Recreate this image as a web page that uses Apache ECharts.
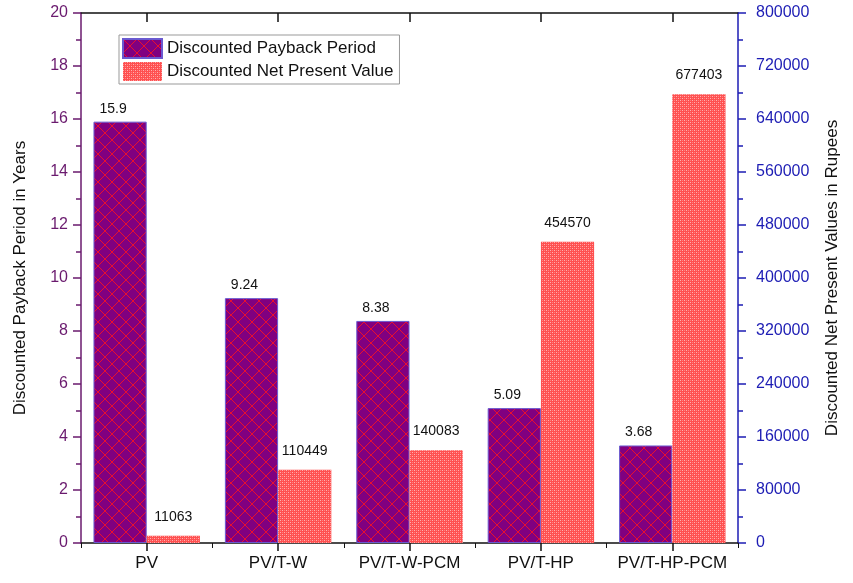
<!DOCTYPE html>
<html>
<head>
<meta charset="utf-8">
<script src="https://cdn.jsdelivr.net/npm/echarts@6/dist/echarts.min.js"></script>
<style>
  html, body { margin: 0; padding: 0; background: #ffffff; }
  #chart { width: 853px; height: 583px; }
</style>
</head>
<body>
<div id="chart"></div>
<script>
// Systems compared
const systems = ['PV', 'PV/T-W', 'PV/T-W-PCM', 'PV/T-HP', 'PV/T-HP-PCM'];
// Discounted payback period (years)
const paybackYears = [15.9, 9.24, 8.38, 5.09, 3.68];
// Discounted net present value (rupees)
const npvRupees = [11063, 110449, 140083, 454570, 677403];

const FONT = '"Liberation Sans", Arial, sans-serif';
const PURPLE_AXIS = '#6a1a6e';
const BLUE_AXIS = '#1c1cb4';

// Purple fill with a crisp red diamond crosshatch
function crossHatch() {
  const s = 14;
  const c = document.createElement('canvas');
  c.width = s; c.height = s;
  const g = c.getContext('2d');
  g.fillStyle = '#800080';
  g.fillRect(0, 0, s, s);
  g.fillStyle = '#e8102e';
  for (let i = 0; i < s; i++) {
    g.fillRect(i, i, 1, 1);
    g.fillRect(s - 1 - i, i, 1, 1);
  }
  return c;
}

// Fine red/pink checker fill
function checker() {
  const s = 4;
  const c = document.createElement('canvas');
  c.width = s; c.height = s;
  const g = c.getContext('2d');
  g.fillStyle = '#ff5050';
  g.fillRect(0, 0, s, s);
  g.fillStyle = '#ffb0b0';
  g.fillRect(0, 0, 1, 1);
  g.fillRect(2, 2, 1, 1);
  g.fillStyle = '#ff8080';
  g.fillRect(2, 0, 1, 1);
  g.fillRect(0, 2, 1, 1);
  return c;
}

const chart = echarts.init(document.getElementById('chart'), null, { renderer: 'canvas' });

chart.setOption({
  backgroundColor: '#ffffff',
  animation: false,
  textStyle: { fontFamily: FONT },
  grid: { left: 81, right: 115, top: 13, bottom: 40, containLabel: false },
  legend: {
    left: 119, top: 35,
    orient: 'vertical',
    icon: 'rect',
    itemWidth: 39, itemHeight: 19,
    itemGap: 3,
    padding: [3, 6, 3, 3],
    borderColor: '#999999', borderWidth: 1,
    textStyle: { fontFamily: FONT, fontSize: 17, color: '#111111' },
    data: ['Discounted Payback Period', 'Discounted Net Present Value']
  },
  xAxis: [
    {
      type: 'category', data: systems, position: 'bottom',
      axisLine: { lineStyle: { color: '#111111', width: 1.5 } },
      axisTick: { show: true, length: 5, lineStyle: { color: '#111111' } },
      axisLabel: { interval: 0, fontFamily: FONT, fontSize: 17, color: '#111111', margin: 12 }
    },
    {
      type: 'category', data: systems, position: 'bottom',
      axisLine: { show: false },
      axisTick: { show: true, interval: 0, alignWithLabel: true, length: 8, lineStyle: { color: '#111111', width: 1.5 } },
      axisLabel: { show: false }
    },
    {
      type: 'category', data: systems, position: 'top',
      axisLine: { lineStyle: { color: '#111111', width: 1.5 } },
      axisTick: { show: true, interval: 0, alignWithLabel: true, inside: true, length: 9, lineStyle: { color: '#111111', width: 1.5 } },
      axisLabel: { show: false }
    }
  ],
  yAxis: [
    {
      type: 'value', min: 0, max: 20, interval: 2, position: 'left',
      name: 'Discounted Payback Period in Years',
      nameLocation: 'middle', nameGap: 52, nameRotate: 90,
      nameTextStyle: { fontFamily: FONT, fontSize: 17, color: '#111111' },
      axisLine: { show: true, lineStyle: { color: PURPLE_AXIS, width: 1.5 } },
      axisTick: { show: true, length: 8, lineStyle: { color: PURPLE_AXIS, width: 1.5 } },
      minorTick: { show: true, splitNumber: 2, length: 5, lineStyle: { color: PURPLE_AXIS, width: 1.5 } },
      axisLabel: { fontFamily: FONT, fontSize: 16, color: PURPLE_AXIS, margin: 13 },
      splitLine: { show: false }
    },
    {
      type: 'value', min: 0, max: 800000, interval: 80000, position: 'right',
      name: 'Discounted Net Present Values in Rupees',
      nameLocation: 'middle', nameGap: 86, nameRotate: 90,
      nameTextStyle: { fontFamily: FONT, fontSize: 17, color: '#111111' },
      axisLine: { show: true, lineStyle: { color: BLUE_AXIS, width: 1.5 } },
      axisTick: { show: true, length: 8, lineStyle: { color: BLUE_AXIS, width: 1.5 } },
      minorTick: { show: true, splitNumber: 2, length: 5, lineStyle: { color: BLUE_AXIS, width: 1.5 } },
      axisLabel: { fontFamily: FONT, fontSize: 16, color: BLUE_AXIS, margin: 18, formatter: v => String(v) },
      splitLine: { show: false }
    }
  ],
  series: [
    {
      name: 'Discounted Payback Period',
      type: 'bar', xAxisIndex: 0, yAxisIndex: 0,
      data: paybackYears,
      barGap: '0%', barCategoryGap: '19%',
      itemStyle: {
        color: { image: crossHatch(), repeat: 'repeat' },
        borderColor: '#6a5ad0', borderWidth: 1
      },
      label: {
        show: true, position: 'top', distance: 6, offset: [-7, 0],
        fontFamily: FONT, fontSize: 14, color: '#111111'
      }
    },
    {
      name: 'Discounted Net Present Value',
      type: 'bar', xAxisIndex: 0, yAxisIndex: 1,
      data: npvRupees,
      barGap: '0%', barCategoryGap: '19%',
      itemStyle: {
        color: { image: checker(), repeat: 'repeat' }
      },
      label: {
        show: true, position: 'top', distance: 12,
        fontFamily: FONT, fontSize: 14, color: '#111111'
      }
    }
  ]
});
</script>
</body>
</html>
